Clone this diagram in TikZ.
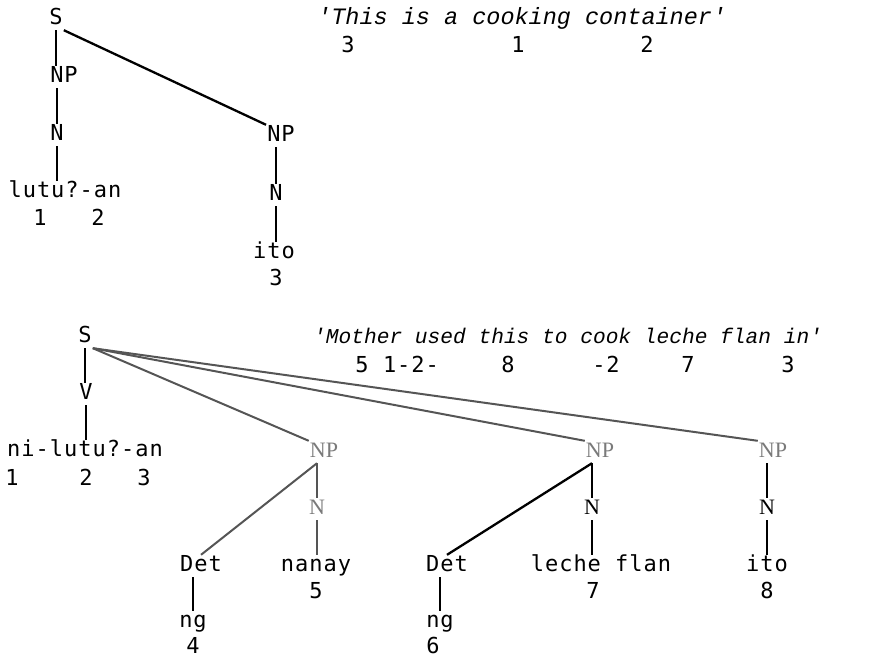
\documentclass[tikz,border=0pt]{standalone}
\usepackage{fontspec}
\newfontfamily\typew{DejaVu Sans Mono}[LetterSpace=4.5]
\newfontfamily\glossfont{Liberation Mono}
\newfontfamily\catfont{Liberation Serif}
\definecolor{faint}{HTML}{555555}
\definecolor{faintcat}{HTML}{7A7A7A}

\begin{document}
\begin{tikzpicture}[x=1pt,y=-1pt,
    lab/.style={font=\fontsize{22}{26}\typew, inner sep=1pt, text height=15pt, text depth=5pt},
    cat/.style={font=\fontsize{22}{24}\catfont, inner sep=1pt, text height=15pt, text depth=5pt, text=faintcat},
    gloss/.style={font=\fontsize{23.5}{26}\glossfont\itshape, inner sep=0pt, anchor=west},
    branch/.style={line width=2.3pt},
    faintbranch/.style={line width=2pt, faint}]
    \useasboundingbox (0,0) rectangle (890,659);

    % first tree: lutu?-an ito
    \node[lab] (s1) at (56,19) {S};
    \node[lab] (np1) at (64,77) {NP};
    \node[lab] (n1) at (57,135) {N};
    \node[lab] (lutu) at (65,192) {lutu?-an};
    \node[lab] (np2) at (281,136) {NP};
    \node[lab] (n2) at (276,195) {N};
    \node[lab] (ito1) at (274,253) {ito};
    \foreach \x/\y/\num/\name in {40/220/1/m1, 98/220/2/m2, 276/280/3/m3}
        \node[lab] (\name) at (\x,\y) {\num};

    \node[gloss] (gloss1) at (317,18) {\textquotesingle This is a cooking container\textquotesingle};
    \foreach \x/\num/\name in {348/3/g1, 518/1/g2, 647/2/g3}
        \node[lab] (\name) at (\x,47) {\num};

    \draw[branch] (s1.south) -- (s1.south |- np1.north);
    \draw[branch] (s1.south east) -- (np2.north west);
    \draw[branch] (n1.north |- np1.south) -- (n1.north);
    \draw[branch] (n1.south) -- (n1.south |- lutu.north);
    \draw[branch] (n2.north |- np2.south) -- (n2.north);
    \draw[branch] (n2.south) -- (n2.south |- ito1.north);

    % second tree: ni-lutu?-an ng nanay ng leche flan ito
    \node[lab] (s2) at (85,337) {S};
    \node[lab] (v) at (86,394) {V};
    \node[lab] (verb) at (85,451) {ni-lutu?-an};
    \foreach \x/\num/\name in {12/1/k1, 86/2/k2, 144/3/k3}
        \node[lab] (\name) at (\x,480) {\num};

    \node[cat] (npa) at (324,452) {NP};
    \node[cat] (na) at (317,509) {N};
    \node[lab] (deta) at (201,566) {Det};
    \node[lab] (nanay) at (316,566) {nanay};
    \node[lab] (nga) at (193,622) {ng};

    \node[cat] (npb) at (600,452) {NP};
    \node[cat,text=black] (nb) at (592,509) {N};
    \node[lab] (detb) at (447,566) {Det};
    \node[lab] (leche) at (601,566) {leche flan};
    \node[lab] (ngb) at (440,622) {ng};

    \node[cat] (npc) at (773,452) {NP};
    \node[cat,text=black] (nc) at (767,509) {N};
    \node[lab] (ito2) at (767,566) {ito};

    \foreach \x/\y/\num/\name in {193/648/4/w4, 316/593/5/w5, 433/648/6/w6, 593/593/7/w7, 767/593/8/w8}
        \node[lab] (\name) at (\x,\y) {\num};

    \node[gloss,font=\fontsize{21.2}{24}\glossfont\itshape] (gloss2) at (313,336) {\textquotesingle Mother used this to cook leche flan in\textquotesingle};
    \foreach \x/\num/\name in {362/5/h1, 411/1-2-/h2, 508/8/h3, 606/-2/h4, 688/7/h5, 788/3/h6}
        \node[lab] (\name) at (\x,367) {\num};

    \draw[branch] (s2.south) -- (s2.south |- v.north);
    \draw[branch] (v.south) -- (v.south |- verb.north);
    \foreach \np in {npa,npb,npc}
        \draw[faintbranch] (s2.south east) -- (\np.north west);

    \draw[faintbranch] (na.north |- npa.south) -- (deta.north);
    \draw[faintbranch] (na.north |- npa.south) -- (na.north);
    \draw[faintbranch] (na.south) -- (na.south |- nanay.north);
    \draw[branch] (deta.south -| nga.north) -- (nga.north);

    \draw[branch] (nb.north |- npb.south) -- (detb.north);
    \draw[branch] (nb.north |- npb.south) -- (nb.north);
    \draw[branch] (nb.south) -- (nb.south |- leche.north);
    \draw[branch] (detb.south -| ngb.north) -- (ngb.north);

    \draw[branch] (nc.north |- npc.south) -- (nc.north);
    \draw[branch] (nc.south) -- (nc.south |- ito2.north);
\end{tikzpicture}
\end{document}
